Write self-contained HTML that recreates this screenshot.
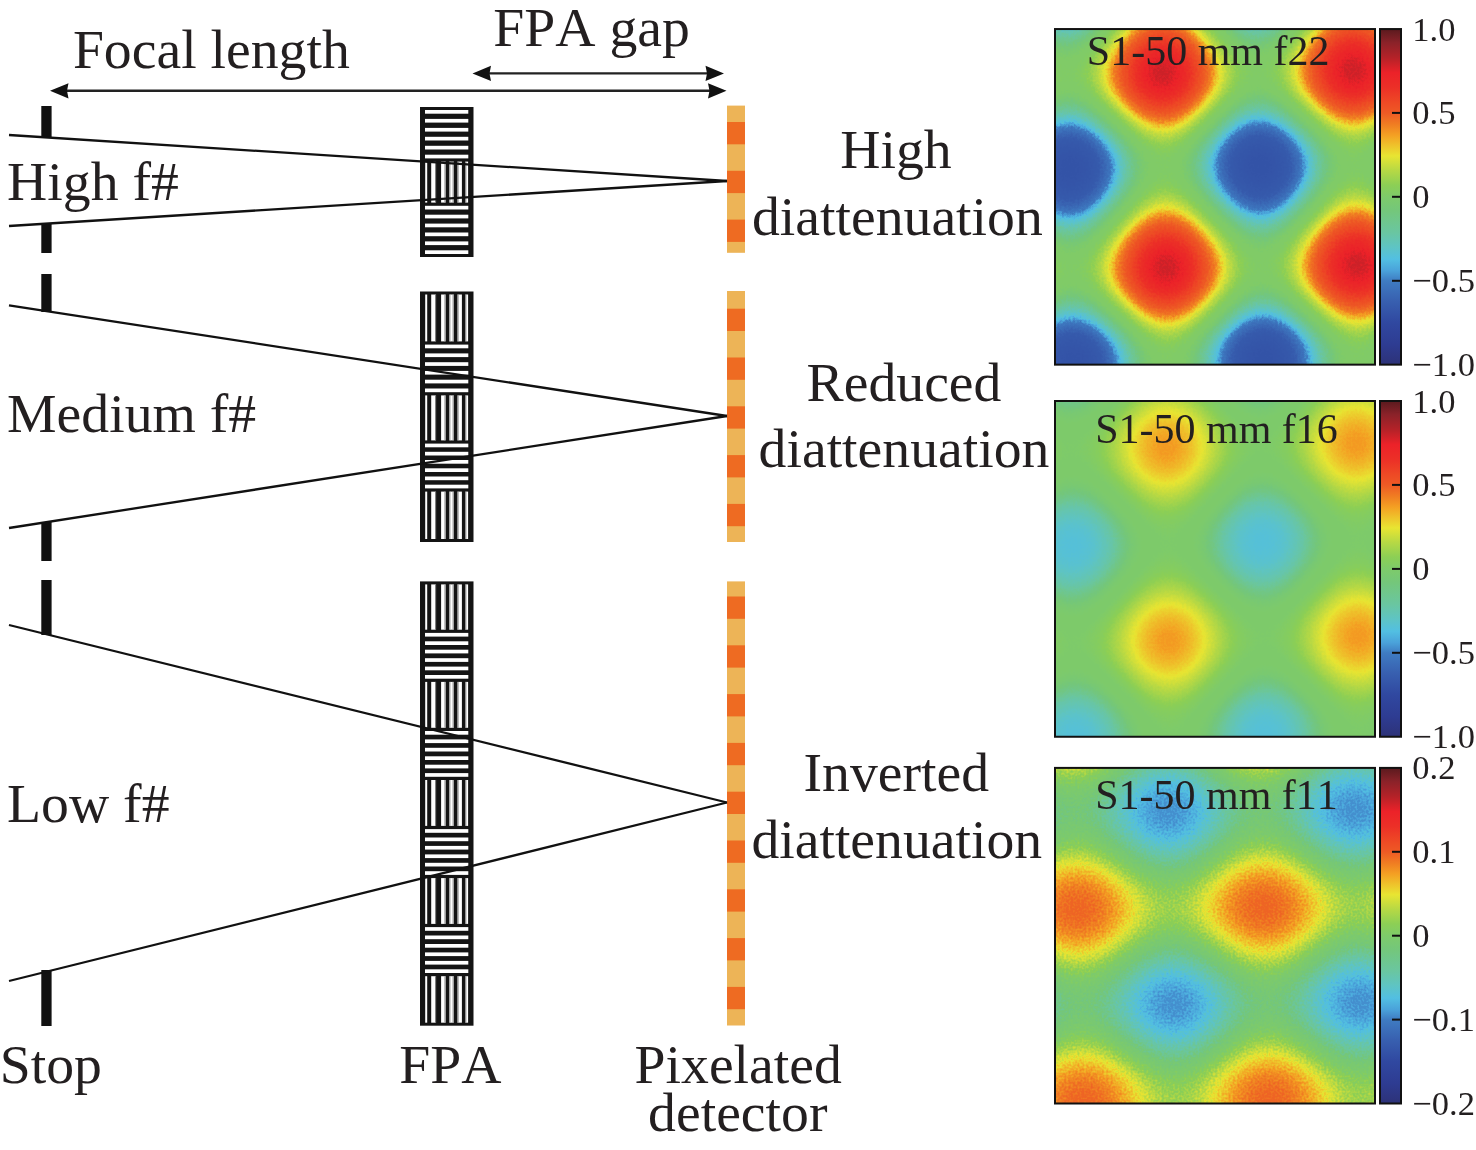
<!DOCTYPE html>
<html><head><meta charset="utf-8"><title>FPA diattenuation</title>
<style>
html,body{margin:0;padding:0;background:#fff;}
svg{display:block;}
text{font-family:"Liberation Serif", "Times New Roman", serif;fill:#231f20;font-kerning:none;}
</style></head><body>
<svg width="1476" height="1150" viewBox="0 0 1476 1150">
<defs><linearGradient id="gx0" gradientUnits="userSpaceOnUse" x1="1162.5" y1="73.5" x2="1353.424" y2="69.682" spreadMethod="repeat"><stop offset="0.0000" stop-color="rgb(255,255,255)"/><stop offset="0.0312" stop-color="rgb(253,253,253)"/><stop offset="0.0625" stop-color="rgb(245,245,245)"/><stop offset="0.0938" stop-color="rgb(234,234,234)"/><stop offset="0.1250" stop-color="rgb(218,218,218)"/><stop offset="0.1562" stop-color="rgb(198,198,198)"/><stop offset="0.1875" stop-color="rgb(176,176,176)"/><stop offset="0.2188" stop-color="rgb(152,152,152)"/><stop offset="0.2500" stop-color="rgb(128,128,128)"/><stop offset="0.2812" stop-color="rgb(103,103,103)"/><stop offset="0.3125" stop-color="rgb(79,79,79)"/><stop offset="0.3438" stop-color="rgb(57,57,57)"/><stop offset="0.3750" stop-color="rgb(37,37,37)"/><stop offset="0.4062" stop-color="rgb(21,21,21)"/><stop offset="0.4375" stop-color="rgb(10,10,10)"/><stop offset="0.4688" stop-color="rgb(2,2,2)"/><stop offset="0.5000" stop-color="rgb(0,0,0)"/><stop offset="0.5312" stop-color="rgb(2,2,2)"/><stop offset="0.5625" stop-color="rgb(10,10,10)"/><stop offset="0.5938" stop-color="rgb(21,21,21)"/><stop offset="0.6250" stop-color="rgb(37,37,37)"/><stop offset="0.6562" stop-color="rgb(57,57,57)"/><stop offset="0.6875" stop-color="rgb(79,79,79)"/><stop offset="0.7188" stop-color="rgb(103,103,103)"/><stop offset="0.7500" stop-color="rgb(127,127,127)"/><stop offset="0.7812" stop-color="rgb(152,152,152)"/><stop offset="0.8125" stop-color="rgb(176,176,176)"/><stop offset="0.8438" stop-color="rgb(198,198,198)"/><stop offset="0.8750" stop-color="rgb(218,218,218)"/><stop offset="0.9062" stop-color="rgb(234,234,234)"/><stop offset="0.9375" stop-color="rgb(245,245,245)"/><stop offset="0.9688" stop-color="rgb(253,253,253)"/><stop offset="1.0000" stop-color="rgb(255,255,255)"/></linearGradient><linearGradient id="gy0" gradientUnits="userSpaceOnUse" x1="1162.5" y1="73.5" x2="1165.229" y2="268.462" spreadMethod="repeat"><stop offset="0.0000" stop-color="rgb(255,255,255)"/><stop offset="0.0312" stop-color="rgb(252,252,252)"/><stop offset="0.0625" stop-color="rgb(244,244,244)"/><stop offset="0.0938" stop-color="rgb(232,232,232)"/><stop offset="0.1250" stop-color="rgb(214,214,214)"/><stop offset="0.1562" stop-color="rgb(193,193,193)"/><stop offset="0.1875" stop-color="rgb(170,170,170)"/><stop offset="0.2188" stop-color="rgb(144,144,144)"/><stop offset="0.2500" stop-color="rgb(118,118,118)"/><stop offset="0.2812" stop-color="rgb(93,93,93)"/><stop offset="0.3125" stop-color="rgb(68,68,68)"/><stop offset="0.3438" stop-color="rgb(46,46,46)"/><stop offset="0.3750" stop-color="rgb(28,28,28)"/><stop offset="0.4062" stop-color="rgb(14,14,14)"/><stop offset="0.4375" stop-color="rgb(4,4,4)"/><stop offset="0.4688" stop-color="rgb(0,0,0)"/><stop offset="0.5000" stop-color="rgb(1,1,1)"/><stop offset="0.5312" stop-color="rgb(6,6,6)"/><stop offset="0.5625" stop-color="rgb(16,16,16)"/><stop offset="0.5938" stop-color="rgb(30,30,30)"/><stop offset="0.6250" stop-color="rgb(47,47,47)"/><stop offset="0.6562" stop-color="rgb(67,67,67)"/><stop offset="0.6875" stop-color="rgb(89,89,89)"/><stop offset="0.7188" stop-color="rgb(112,112,112)"/><stop offset="0.7500" stop-color="rgb(136,136,136)"/><stop offset="0.7812" stop-color="rgb(160,160,160)"/><stop offset="0.8125" stop-color="rgb(182,182,182)"/><stop offset="0.8438" stop-color="rgb(203,203,203)"/><stop offset="0.8750" stop-color="rgb(221,221,221)"/><stop offset="0.9062" stop-color="rgb(235,235,235)"/><stop offset="0.9375" stop-color="rgb(246,246,246)"/><stop offset="0.9688" stop-color="rgb(253,253,253)"/><stop offset="1.0000" stop-color="rgb(255,255,255)"/></linearGradient><filter id="cm0" filterUnits="userSpaceOnUse" x="1055" y="29.05" width="320" height="335.59999999999997" color-interpolation-filters="sRGB"><feTurbulence type="fractalNoise" baseFrequency="0.45" numOctaves="1" seed="3" result="tn"/><feColorMatrix in="tn" type="matrix" values="1 0 0 0 0  1 0 0 0 0  1 0 0 0 0  0 0 0 0 1" result="nz"/><feComposite in="SourceGraphic" in2="nz" operator="arithmetic" k1="0" k2="1" k3="0.06" k4="-0.03" result="sn"/><feComponentTransfer in="sn"><feFuncR type="table" tableValues="0.203 0.203 0.204 0.205 0.205 0.206 0.207 0.207 0.208 0.209 0.209 0.210 0.211 0.211 0.212 0.214 0.217 0.220 0.222 0.225 0.227 0.230 0.233 0.235 0.238 0.240 0.245 0.257 0.273 0.288 0.301 0.312 0.325 0.336 0.345 0.354 0.363 0.371 0.378 0.386 0.393 0.400 0.408 0.416 0.420 0.424 0.429 0.433 0.438 0.442 0.446 0.451 0.455 0.462 0.468 0.473 0.479 0.484 0.489 0.494 0.502 0.502 0.502 0.502 0.502 0.508 0.513 0.519 0.524 0.532 0.540 0.549 0.569 0.590 0.610 0.631 0.652 0.672 0.693 0.716 0.744 0.773 0.802 0.832 0.861 0.890 0.912 0.917 0.926 0.934 0.941 0.948 0.955 0.953 0.948 0.942 0.940 0.939 0.938 0.937 0.936 0.935 0.934 0.933 0.933 0.933 0.933 0.933 0.933 0.932 0.932 0.931 0.930 0.929 0.928 0.927 0.926 0.925 0.925 0.925 0.925 0.925 0.925 0.925 0.925 0.895 0.864 0.834 0.803"/><feFuncG type="table" tableValues="0.326 0.328 0.330 0.332 0.334 0.336 0.338 0.340 0.342 0.344 0.346 0.348 0.350 0.352 0.354 0.360 0.368 0.377 0.387 0.397 0.408 0.418 0.428 0.439 0.449 0.460 0.479 0.521 0.575 0.629 0.673 0.716 0.751 0.755 0.759 0.763 0.766 0.769 0.770 0.771 0.773 0.774 0.775 0.776 0.777 0.777 0.778 0.778 0.779 0.779 0.780 0.780 0.781 0.783 0.786 0.788 0.790 0.792 0.794 0.796 0.798 0.798 0.798 0.798 0.798 0.800 0.802 0.803 0.805 0.807 0.809 0.812 0.816 0.821 0.826 0.830 0.835 0.840 0.844 0.850 0.857 0.864 0.871 0.878 0.886 0.893 0.889 0.859 0.815 0.771 0.726 0.681 0.636 0.592 0.548 0.504 0.478 0.458 0.438 0.417 0.397 0.377 0.356 0.344 0.333 0.323 0.312 0.302 0.291 0.279 0.267 0.255 0.243 0.231 0.219 0.207 0.195 0.185 0.179 0.171 0.164 0.156 0.149 0.141 0.133 0.133 0.133 0.133 0.133"/><feFuncB type="table" tableValues="0.656 0.658 0.659 0.660 0.662 0.663 0.664 0.666 0.667 0.669 0.670 0.671 0.673 0.674 0.675 0.679 0.685 0.690 0.697 0.704 0.710 0.717 0.723 0.730 0.737 0.744 0.756 0.783 0.817 0.851 0.865 0.877 0.877 0.850 0.828 0.805 0.783 0.761 0.739 0.718 0.696 0.673 0.650 0.628 0.611 0.594 0.578 0.561 0.544 0.528 0.511 0.494 0.478 0.466 0.457 0.449 0.440 0.432 0.424 0.415 0.404 0.404 0.404 0.404 0.404 0.396 0.387 0.379 0.370 0.359 0.346 0.334 0.326 0.318 0.310 0.302 0.294 0.286 0.278 0.269 0.258 0.247 0.236 0.225 0.214 0.204 0.194 0.189 0.180 0.171 0.161 0.150 0.139 0.136 0.135 0.134 0.135 0.136 0.138 0.140 0.141 0.143 0.145 0.145 0.145 0.145 0.145 0.145 0.145 0.146 0.147 0.148 0.149 0.150 0.151 0.152 0.152 0.153 0.154 0.155 0.156 0.158 0.159 0.160 0.161 0.160 0.160 0.159 0.159"/><feFuncA type="identity"/></feComponentTransfer></filter><linearGradient id="gx1" gradientUnits="userSpaceOnUse" x1="1166.5" y1="447.5" x2="1356.473" y2="445.220" spreadMethod="repeat"><stop offset="0.0000" stop-color="rgb(255,255,255)"/><stop offset="0.0312" stop-color="rgb(253,253,253)"/><stop offset="0.0625" stop-color="rgb(245,245,245)"/><stop offset="0.0938" stop-color="rgb(234,234,234)"/><stop offset="0.1250" stop-color="rgb(218,218,218)"/><stop offset="0.1562" stop-color="rgb(198,198,198)"/><stop offset="0.1875" stop-color="rgb(176,176,176)"/><stop offset="0.2188" stop-color="rgb(152,152,152)"/><stop offset="0.2500" stop-color="rgb(128,128,128)"/><stop offset="0.2812" stop-color="rgb(103,103,103)"/><stop offset="0.3125" stop-color="rgb(79,79,79)"/><stop offset="0.3438" stop-color="rgb(57,57,57)"/><stop offset="0.3750" stop-color="rgb(37,37,37)"/><stop offset="0.4062" stop-color="rgb(21,21,21)"/><stop offset="0.4375" stop-color="rgb(10,10,10)"/><stop offset="0.4688" stop-color="rgb(2,2,2)"/><stop offset="0.5000" stop-color="rgb(0,0,0)"/><stop offset="0.5312" stop-color="rgb(2,2,2)"/><stop offset="0.5625" stop-color="rgb(10,10,10)"/><stop offset="0.5938" stop-color="rgb(21,21,21)"/><stop offset="0.6250" stop-color="rgb(37,37,37)"/><stop offset="0.6562" stop-color="rgb(57,57,57)"/><stop offset="0.6875" stop-color="rgb(79,79,79)"/><stop offset="0.7188" stop-color="rgb(103,103,103)"/><stop offset="0.7500" stop-color="rgb(127,127,127)"/><stop offset="0.7812" stop-color="rgb(152,152,152)"/><stop offset="0.8125" stop-color="rgb(176,176,176)"/><stop offset="0.8438" stop-color="rgb(198,198,198)"/><stop offset="0.8750" stop-color="rgb(218,218,218)"/><stop offset="0.9062" stop-color="rgb(234,234,234)"/><stop offset="0.9375" stop-color="rgb(245,245,245)"/><stop offset="0.9688" stop-color="rgb(253,253,253)"/><stop offset="1.0000" stop-color="rgb(255,255,255)"/></linearGradient><linearGradient id="gy1" gradientUnits="userSpaceOnUse" x1="1166.5" y1="447.5" x2="1170.744" y2="640.407" spreadMethod="repeat"><stop offset="0.0000" stop-color="rgb(255,255,255)"/><stop offset="0.0312" stop-color="rgb(253,253,253)"/><stop offset="0.0625" stop-color="rgb(245,245,245)"/><stop offset="0.0938" stop-color="rgb(234,234,234)"/><stop offset="0.1250" stop-color="rgb(218,218,218)"/><stop offset="0.1562" stop-color="rgb(198,198,198)"/><stop offset="0.1875" stop-color="rgb(176,176,176)"/><stop offset="0.2188" stop-color="rgb(152,152,152)"/><stop offset="0.2500" stop-color="rgb(128,128,128)"/><stop offset="0.2812" stop-color="rgb(103,103,103)"/><stop offset="0.3125" stop-color="rgb(79,79,79)"/><stop offset="0.3438" stop-color="rgb(57,57,57)"/><stop offset="0.3750" stop-color="rgb(37,37,37)"/><stop offset="0.4062" stop-color="rgb(21,21,21)"/><stop offset="0.4375" stop-color="rgb(10,10,10)"/><stop offset="0.4688" stop-color="rgb(2,2,2)"/><stop offset="0.5000" stop-color="rgb(0,0,0)"/><stop offset="0.5312" stop-color="rgb(2,2,2)"/><stop offset="0.5625" stop-color="rgb(10,10,10)"/><stop offset="0.5938" stop-color="rgb(21,21,21)"/><stop offset="0.6250" stop-color="rgb(37,37,37)"/><stop offset="0.6562" stop-color="rgb(57,57,57)"/><stop offset="0.6875" stop-color="rgb(79,79,79)"/><stop offset="0.7188" stop-color="rgb(103,103,103)"/><stop offset="0.7500" stop-color="rgb(127,127,127)"/><stop offset="0.7812" stop-color="rgb(152,152,152)"/><stop offset="0.8125" stop-color="rgb(176,176,176)"/><stop offset="0.8438" stop-color="rgb(198,198,198)"/><stop offset="0.8750" stop-color="rgb(218,218,218)"/><stop offset="0.9062" stop-color="rgb(234,234,234)"/><stop offset="0.9375" stop-color="rgb(245,245,245)"/><stop offset="0.9688" stop-color="rgb(253,253,253)"/><stop offset="1.0000" stop-color="rgb(255,255,255)"/></linearGradient><filter id="cm1" filterUnits="userSpaceOnUse" x="1055" y="401" width="320" height="335.75" color-interpolation-filters="sRGB"><feTurbulence type="fractalNoise" baseFrequency="0.45" numOctaves="1" seed="10" result="tn"/><feColorMatrix in="tn" type="matrix" values="1 0 0 0 0  1 0 0 0 0  1 0 0 0 0  0 0 0 0 1" result="nz"/><feComposite in="SourceGraphic" in2="nz" operator="arithmetic" k1="0" k2="1" k3="0.05" k4="-0.025" result="sn"/><feComponentTransfer in="sn"><feFuncR type="table" tableValues="0.336 0.338 0.341 0.343 0.346 0.348 0.351 0.353 0.356 0.360 0.364 0.367 0.371 0.374 0.377 0.380 0.383 0.386 0.389 0.392 0.396 0.399 0.402 0.405 0.408 0.411 0.416 0.420 0.423 0.426 0.429 0.432 0.436 0.439 0.442 0.445 0.447 0.450 0.452 0.454 0.458 0.462 0.466 0.470 0.474 0.476 0.478 0.480 0.482 0.484 0.486 0.488 0.490 0.491 0.493 0.494 0.494 0.494 0.494 0.494 0.494 0.494 0.494 0.494 0.494 0.497 0.500 0.503 0.506 0.509 0.512 0.515 0.517 0.520 0.523 0.527 0.531 0.536 0.540 0.545 0.550 0.561 0.572 0.583 0.594 0.605 0.616 0.627 0.638 0.650 0.662 0.674 0.685 0.697 0.709 0.721 0.735 0.748 0.762 0.776 0.790 0.804 0.817 0.831 0.846 0.861 0.876 0.891 0.905 0.912 0.915 0.917 0.920 0.923 0.926 0.928 0.931 0.934 0.936 0.938 0.941 0.943 0.945 0.947 0.950 0.953 0.956 0.956 0.954"/><feFuncG type="table" tableValues="0.755 0.756 0.757 0.758 0.759 0.760 0.761 0.762 0.763 0.765 0.767 0.768 0.769 0.769 0.770 0.771 0.771 0.772 0.772 0.773 0.773 0.774 0.774 0.775 0.775 0.776 0.777 0.777 0.777 0.778 0.778 0.778 0.778 0.779 0.779 0.779 0.780 0.780 0.780 0.780 0.782 0.783 0.785 0.786 0.788 0.789 0.790 0.790 0.791 0.792 0.793 0.793 0.794 0.795 0.796 0.796 0.796 0.796 0.796 0.796 0.796 0.796 0.796 0.796 0.796 0.797 0.798 0.799 0.799 0.800 0.801 0.802 0.803 0.804 0.804 0.805 0.807 0.808 0.809 0.811 0.812 0.814 0.817 0.819 0.822 0.825 0.827 0.830 0.832 0.835 0.837 0.840 0.843 0.845 0.848 0.851 0.854 0.858 0.861 0.865 0.868 0.872 0.875 0.878 0.882 0.886 0.890 0.893 0.897 0.888 0.874 0.859 0.845 0.830 0.816 0.802 0.788 0.773 0.759 0.745 0.730 0.716 0.701 0.687 0.670 0.653 0.635 0.618 0.602"/><feFuncB type="table" tableValues="0.850 0.844 0.838 0.832 0.826 0.819 0.813 0.807 0.801 0.791 0.781 0.772 0.762 0.753 0.744 0.734 0.725 0.716 0.707 0.697 0.688 0.679 0.669 0.660 0.651 0.640 0.625 0.612 0.600 0.588 0.576 0.564 0.552 0.539 0.527 0.517 0.508 0.499 0.490 0.480 0.473 0.467 0.461 0.454 0.448 0.444 0.441 0.438 0.435 0.432 0.429 0.426 0.423 0.420 0.417 0.416 0.416 0.416 0.416 0.416 0.416 0.416 0.416 0.416 0.416 0.411 0.407 0.403 0.398 0.394 0.389 0.385 0.381 0.376 0.372 0.367 0.360 0.353 0.347 0.340 0.333 0.329 0.324 0.320 0.316 0.312 0.307 0.303 0.299 0.294 0.290 0.285 0.281 0.276 0.272 0.267 0.262 0.257 0.251 0.246 0.241 0.236 0.231 0.226 0.220 0.214 0.209 0.203 0.198 0.194 0.191 0.189 0.186 0.183 0.180 0.177 0.175 0.172 0.168 0.165 0.162 0.158 0.155 0.151 0.147 0.143 0.139 0.137 0.136"/><feFuncA type="identity"/></feComponentTransfer></filter><linearGradient id="gx2" gradientUnits="userSpaceOnUse" x1="1264" y1="907" x2="1450.809" y2="901.022" spreadMethod="repeat"><stop offset="0.0000" stop-color="rgb(255,255,255)"/><stop offset="0.0312" stop-color="rgb(253,253,253)"/><stop offset="0.0625" stop-color="rgb(245,245,245)"/><stop offset="0.0938" stop-color="rgb(234,234,234)"/><stop offset="0.1250" stop-color="rgb(218,218,218)"/><stop offset="0.1562" stop-color="rgb(198,198,198)"/><stop offset="0.1875" stop-color="rgb(176,176,176)"/><stop offset="0.2188" stop-color="rgb(152,152,152)"/><stop offset="0.2500" stop-color="rgb(128,128,128)"/><stop offset="0.2812" stop-color="rgb(103,103,103)"/><stop offset="0.3125" stop-color="rgb(79,79,79)"/><stop offset="0.3438" stop-color="rgb(57,57,57)"/><stop offset="0.3750" stop-color="rgb(37,37,37)"/><stop offset="0.4062" stop-color="rgb(21,21,21)"/><stop offset="0.4375" stop-color="rgb(10,10,10)"/><stop offset="0.4688" stop-color="rgb(2,2,2)"/><stop offset="0.5000" stop-color="rgb(0,0,0)"/><stop offset="0.5312" stop-color="rgb(2,2,2)"/><stop offset="0.5625" stop-color="rgb(10,10,10)"/><stop offset="0.5938" stop-color="rgb(21,21,21)"/><stop offset="0.6250" stop-color="rgb(37,37,37)"/><stop offset="0.6562" stop-color="rgb(57,57,57)"/><stop offset="0.6875" stop-color="rgb(79,79,79)"/><stop offset="0.7188" stop-color="rgb(103,103,103)"/><stop offset="0.7500" stop-color="rgb(127,127,127)"/><stop offset="0.7812" stop-color="rgb(152,152,152)"/><stop offset="0.8125" stop-color="rgb(176,176,176)"/><stop offset="0.8438" stop-color="rgb(198,198,198)"/><stop offset="0.8750" stop-color="rgb(218,218,218)"/><stop offset="0.9062" stop-color="rgb(234,234,234)"/><stop offset="0.9375" stop-color="rgb(245,245,245)"/><stop offset="0.9688" stop-color="rgb(253,253,253)"/><stop offset="1.0000" stop-color="rgb(255,255,255)"/></linearGradient><linearGradient id="gy2" gradientUnits="userSpaceOnUse" x1="1264" y1="907" x2="1265.930" y2="1099.981" spreadMethod="repeat"><stop offset="0.0000" stop-color="rgb(255,255,255)"/><stop offset="0.0312" stop-color="rgb(253,253,253)"/><stop offset="0.0625" stop-color="rgb(245,245,245)"/><stop offset="0.0938" stop-color="rgb(234,234,234)"/><stop offset="0.1250" stop-color="rgb(218,218,218)"/><stop offset="0.1562" stop-color="rgb(198,198,198)"/><stop offset="0.1875" stop-color="rgb(176,176,176)"/><stop offset="0.2188" stop-color="rgb(152,152,152)"/><stop offset="0.2500" stop-color="rgb(128,128,128)"/><stop offset="0.2812" stop-color="rgb(103,103,103)"/><stop offset="0.3125" stop-color="rgb(79,79,79)"/><stop offset="0.3438" stop-color="rgb(57,57,57)"/><stop offset="0.3750" stop-color="rgb(37,37,37)"/><stop offset="0.4062" stop-color="rgb(21,21,21)"/><stop offset="0.4375" stop-color="rgb(10,10,10)"/><stop offset="0.4688" stop-color="rgb(2,2,2)"/><stop offset="0.5000" stop-color="rgb(0,0,0)"/><stop offset="0.5312" stop-color="rgb(2,2,2)"/><stop offset="0.5625" stop-color="rgb(10,10,10)"/><stop offset="0.5938" stop-color="rgb(21,21,21)"/><stop offset="0.6250" stop-color="rgb(37,37,37)"/><stop offset="0.6562" stop-color="rgb(57,57,57)"/><stop offset="0.6875" stop-color="rgb(79,79,79)"/><stop offset="0.7188" stop-color="rgb(103,103,103)"/><stop offset="0.7500" stop-color="rgb(127,127,127)"/><stop offset="0.7812" stop-color="rgb(152,152,152)"/><stop offset="0.8125" stop-color="rgb(176,176,176)"/><stop offset="0.8438" stop-color="rgb(198,198,198)"/><stop offset="0.8750" stop-color="rgb(218,218,218)"/><stop offset="0.9062" stop-color="rgb(234,234,234)"/><stop offset="0.9375" stop-color="rgb(245,245,245)"/><stop offset="0.9688" stop-color="rgb(253,253,253)"/><stop offset="1.0000" stop-color="rgb(255,255,255)"/></linearGradient><filter id="cm2" filterUnits="userSpaceOnUse" x="1055" y="767.9" width="320" height="335.6" color-interpolation-filters="sRGB"><feTurbulence type="fractalNoise" baseFrequency="0.45" numOctaves="1" seed="17" result="tn"/><feColorMatrix in="tn" type="matrix" values="1 0 0 0 0  1 0 0 0 0  1 0 0 0 0  0 0 0 0 1" result="nz"/><feComposite in="SourceGraphic" in2="nz" operator="arithmetic" k1="0" k2="1" k3="0.2" k4="-0.1" result="sn"/><feComponentTransfer in="sn"><feFuncR type="table" tableValues="0.269 0.274 0.279 0.284 0.289 0.293 0.296 0.300 0.303 0.306 0.310 0.313 0.316 0.320 0.323 0.328 0.333 0.338 0.343 0.348 0.352 0.357 0.362 0.367 0.371 0.375 0.379 0.383 0.387 0.390 0.394 0.398 0.402 0.406 0.410 0.414 0.417 0.419 0.422 0.425 0.428 0.431 0.434 0.437 0.440 0.443 0.446 0.449 0.452 0.454 0.459 0.464 0.467 0.469 0.471 0.473 0.476 0.478 0.480 0.483 0.485 0.487 0.490 0.492 0.494 0.500 0.506 0.513 0.519 0.525 0.531 0.537 0.543 0.550 0.565 0.580 0.595 0.610 0.628 0.646 0.663 0.681 0.699 0.717 0.737 0.756 0.774 0.792 0.810 0.828 0.847 0.865 0.883 0.901 0.912 0.915 0.918 0.922 0.925 0.928 0.932 0.934 0.937 0.940 0.942 0.945 0.948 0.950 0.953 0.955 0.956 0.954 0.952 0.950 0.948 0.947 0.946 0.944 0.943 0.941 0.941 0.940 0.939 0.939 0.938 0.937 0.937 0.936 0.936"/><feFuncG type="table" tableValues="0.561 0.579 0.597 0.614 0.632 0.645 0.657 0.669 0.681 0.694 0.706 0.718 0.730 0.742 0.750 0.752 0.754 0.756 0.758 0.760 0.762 0.764 0.766 0.768 0.769 0.770 0.770 0.771 0.772 0.772 0.773 0.774 0.774 0.775 0.775 0.776 0.777 0.777 0.777 0.777 0.778 0.778 0.778 0.779 0.779 0.779 0.779 0.780 0.780 0.780 0.782 0.784 0.785 0.786 0.787 0.788 0.789 0.790 0.791 0.791 0.792 0.793 0.794 0.795 0.796 0.798 0.800 0.801 0.803 0.805 0.807 0.808 0.810 0.812 0.815 0.819 0.822 0.826 0.830 0.834 0.838 0.842 0.846 0.850 0.855 0.860 0.864 0.869 0.873 0.878 0.882 0.887 0.891 0.896 0.889 0.871 0.854 0.836 0.819 0.802 0.786 0.769 0.753 0.736 0.720 0.703 0.686 0.670 0.653 0.637 0.620 0.604 0.588 0.572 0.556 0.544 0.532 0.520 0.508 0.496 0.484 0.473 0.461 0.450 0.439 0.427 0.416 0.405 0.393"/><feFuncB type="table" tableValues="0.808 0.819 0.830 0.842 0.853 0.858 0.861 0.864 0.868 0.871 0.874 0.878 0.881 0.884 0.882 0.870 0.857 0.845 0.833 0.821 0.809 0.797 0.785 0.773 0.761 0.749 0.738 0.726 0.715 0.703 0.691 0.680 0.668 0.657 0.645 0.633 0.623 0.614 0.603 0.592 0.581 0.570 0.558 0.547 0.536 0.525 0.514 0.503 0.491 0.480 0.472 0.464 0.460 0.456 0.452 0.449 0.445 0.441 0.438 0.434 0.430 0.427 0.423 0.419 0.416 0.406 0.397 0.388 0.379 0.370 0.361 0.351 0.342 0.333 0.327 0.322 0.316 0.310 0.303 0.296 0.289 0.282 0.275 0.269 0.261 0.254 0.247 0.240 0.233 0.227 0.220 0.213 0.206 0.199 0.194 0.191 0.187 0.184 0.181 0.178 0.174 0.171 0.167 0.163 0.159 0.155 0.151 0.147 0.143 0.139 0.137 0.137 0.136 0.136 0.135 0.135 0.134 0.134 0.134 0.133 0.134 0.135 0.136 0.137 0.138 0.139 0.140 0.141 0.142"/><feFuncA type="identity"/></feComponentTransfer></filter><linearGradient id="cb" x1="0" y1="0" x2="0" y2="1"><stop offset="0.000" stop-color="#5A1A1E"/><stop offset="0.040" stop-color="#8A2229"/><stop offset="0.085" stop-color="#B42228"/><stop offset="0.130" stop-color="#EC2229"/><stop offset="0.175" stop-color="#EC3027"/><stop offset="0.220" stop-color="#EE4A25"/><stop offset="0.250" stop-color="#EE5A25"/><stop offset="0.285" stop-color="#F07E22"/><stop offset="0.316" stop-color="#F4A023"/><stop offset="0.350" stop-color="#EEC62C"/><stop offset="0.378" stop-color="#E8E532"/><stop offset="0.420" stop-color="#B8D944"/><stop offset="0.465" stop-color="#8CCF55"/><stop offset="0.500" stop-color="#7ECB6A"/><stop offset="0.540" stop-color="#74C77A"/><stop offset="0.605" stop-color="#6AC6A0"/><stop offset="0.650" stop-color="#5EC4C4"/><stop offset="0.686" stop-color="#52BFE2"/><stop offset="0.720" stop-color="#4AA2DA"/><stop offset="0.750" stop-color="#3F7CC2"/><stop offset="0.810" stop-color="#3860B0"/><stop offset="0.875" stop-color="#3048A0"/><stop offset="0.940" stop-color="#2E3C92"/><stop offset="1.000" stop-color="#2D3278"/></linearGradient></defs>
<g filter="url(#cm0)"><rect x="1055" y="29.05" width="320" height="335.59999999999997" fill="url(#gx0)"/><rect x="1055" y="29.05" width="320" height="335.59999999999997" fill="url(#gy0)" opacity="0.5"/></g>
<rect x="1055" y="29.05" width="320" height="335.59999999999997" fill="none" stroke="#111" stroke-width="2"/>
<text x="1086.8" y="65.1" font-size="42">S1-50 mm f22</text>
<rect x="1380" y="29.05" width="21" height="335.59999999999997" fill="url(#cb)" stroke="#111" stroke-width="2"/>
<text x="1412.3" y="40.5" font-size="34.5">1.0</text>
<line x1="1392" y1="112.9" x2="1401" y2="112.9" stroke="#111" stroke-width="2"/>
<text x="1412.3" y="124.4" font-size="34.5">0.5</text>
<line x1="1392" y1="196.8" x2="1401" y2="196.8" stroke="#111" stroke-width="2"/>
<text x="1412.3" y="208.3" font-size="34.5">0</text>
<line x1="1392" y1="280.8" x2="1401" y2="280.8" stroke="#111" stroke-width="2"/>
<text x="1412.3" y="292.2" font-size="34.5">−0.5</text>
<text x="1412.3" y="376.1" font-size="34.5">−1.0</text>
<g filter="url(#cm1)"><rect x="1055" y="401" width="320" height="335.75" fill="url(#gx1)"/><rect x="1055" y="401" width="320" height="335.75" fill="url(#gy1)" opacity="0.5"/></g>
<rect x="1055" y="401" width="320" height="335.75" fill="none" stroke="#111" stroke-width="2"/>
<text x="1095.2" y="442.5" font-size="42">S1-50 mm f16</text>
<rect x="1380" y="401" width="21" height="335.75" fill="url(#cb)" stroke="#111" stroke-width="2"/>
<text x="1412.3" y="412.5" font-size="34.5">1.0</text>
<line x1="1392" y1="484.9" x2="1401" y2="484.9" stroke="#111" stroke-width="2"/>
<text x="1412.3" y="496.4" font-size="34.5">0.5</text>
<line x1="1392" y1="568.9" x2="1401" y2="568.9" stroke="#111" stroke-width="2"/>
<text x="1412.3" y="580.4" font-size="34.5">0</text>
<line x1="1392" y1="652.8" x2="1401" y2="652.8" stroke="#111" stroke-width="2"/>
<text x="1412.3" y="664.3" font-size="34.5">−0.5</text>
<text x="1412.3" y="748.2" font-size="34.5">−1.0</text>
<g filter="url(#cm2)"><rect x="1055" y="767.9" width="320" height="335.6" fill="url(#gx2)"/><rect x="1055" y="767.9" width="320" height="335.6" fill="url(#gy2)" opacity="0.6"/></g>
<rect x="1055" y="767.9" width="320" height="335.6" fill="none" stroke="#111" stroke-width="2"/>
<text x="1095.2" y="808.5" font-size="42">S1-50 mm f11</text>
<rect x="1380" y="767.9" width="21" height="335.6" fill="url(#cb)" stroke="#111" stroke-width="2"/>
<text x="1412.3" y="779.4" font-size="34.5">0.2</text>
<line x1="1392" y1="851.8" x2="1401" y2="851.8" stroke="#111" stroke-width="2"/>
<text x="1412.3" y="863.3" font-size="34.5">0.1</text>
<line x1="1392" y1="935.7" x2="1401" y2="935.7" stroke="#111" stroke-width="2"/>
<text x="1412.3" y="947.2" font-size="34.5">0</text>
<line x1="1392" y1="1019.6" x2="1401" y2="1019.6" stroke="#111" stroke-width="2"/>
<text x="1412.3" y="1031.1" font-size="34.5">−0.1</text>
<text x="1412.3" y="1115.0" font-size="34.5">−0.2</text>
<rect x="41.3" y="106" width="10.3" height="31" fill="#111"/>
<rect x="41.3" y="224" width="10.3" height="29" fill="#111"/>
<rect x="41.3" y="274" width="10.3" height="38" fill="#111"/>
<rect x="41.3" y="522" width="10.3" height="39" fill="#111"/>
<rect x="41.3" y="580" width="10.3" height="55" fill="#111"/>
<rect x="41.3" y="970" width="10.3" height="56" fill="#111"/>
<rect x="727" y="105.6" width="18" height="147.20000000000002" fill="#EDB457"/>
<rect x="727" y="122.0" width="18" height="22.3" fill="#EE6B22"/>
<rect x="727" y="170.8" width="18" height="22.3" fill="#EE6B22"/>
<rect x="727" y="219.6" width="18" height="22.3" fill="#EE6B22"/>
<rect x="727" y="291" width="18" height="251" fill="#EDB457"/>
<rect x="727" y="308.7" width="18" height="22.3" fill="#EE6B22"/>
<rect x="727" y="357.5" width="18" height="22.3" fill="#EE6B22"/>
<rect x="727" y="406.3" width="18" height="22.3" fill="#EE6B22"/>
<rect x="727" y="455.1" width="18" height="22.3" fill="#EE6B22"/>
<rect x="727" y="503.9" width="18" height="22.3" fill="#EE6B22"/>
<rect x="727" y="581.4" width="18" height="444.1" fill="#EDB457"/>
<rect x="727" y="596.5" width="18" height="22.3" fill="#EE6B22"/>
<rect x="727" y="645.3" width="18" height="22.3" fill="#EE6B22"/>
<rect x="727" y="694.1" width="18" height="22.3" fill="#EE6B22"/>
<rect x="727" y="742.9" width="18" height="22.3" fill="#EE6B22"/>
<rect x="727" y="791.7" width="18" height="22.3" fill="#EE6B22"/>
<rect x="727" y="840.5" width="18" height="22.3" fill="#EE6B22"/>
<rect x="727" y="889.3" width="18" height="22.3" fill="#EE6B22"/>
<rect x="727" y="938.1" width="18" height="22.3" fill="#EE6B22"/>
<rect x="727" y="986.9" width="18" height="22.3" fill="#EE6B22"/>
<rect x="420" y="107" width="53.5" height="150.0" fill="#141414"/>
<rect x="425" y="110.0" width="43.3" height="3.7" fill="#fff"/>
<rect x="425" y="118.9" width="43.3" height="3.7" fill="#fff"/>
<rect x="425" y="127.9" width="43.3" height="3.7" fill="#fff"/>
<rect x="425" y="136.8" width="43.3" height="3.7" fill="#fff"/>
<rect x="425" y="145.8" width="43.3" height="3.7" fill="#fff"/>
<rect x="425" y="154.7" width="43.3" height="3.7" fill="#fff"/>
<rect x="425.2" y="161.6" width="2.0" height="41.0" fill="#fff"/>
<rect x="431.2" y="161.6" width="4.7" height="41.0" fill="#fff"/>
<rect x="441.1" y="161.6" width="4.5" height="41.0" fill="#fff"/>
<rect x="449.4" y="161.6" width="4.4" height="41.0" fill="#fff"/>
<rect x="457.4" y="161.6" width="4.5" height="41.0" fill="#fff"/>
<rect x="465.3" y="161.6" width="2.8" height="41.0" fill="#fff"/>
<rect x="435.2" y="161.6" width="1.0" height="41.0" fill="#666"/>
<rect x="444.4" y="161.6" width="1.0" height="41.0" fill="#999"/>
<rect x="449.6" y="161.6" width="0.9" height="41.0" fill="#aaa"/>
<rect x="452.6" y="161.6" width="1.0" height="41.0" fill="#888"/>
<rect x="457.5" y="161.6" width="1.0" height="41.0" fill="#777"/>
<rect x="465.4" y="161.6" width="0.9" height="41.0" fill="#777"/>
<rect x="425" y="205.8" width="43.3" height="3.7" fill="#fff"/>
<rect x="425" y="214.7" width="43.3" height="3.7" fill="#fff"/>
<rect x="425" y="223.6" width="43.3" height="3.7" fill="#fff"/>
<rect x="425" y="232.5" width="43.3" height="3.7" fill="#fff"/>
<rect x="425" y="241.4" width="43.3" height="3.7" fill="#fff"/>
<rect x="425" y="250.3" width="43.3" height="3.7" fill="#fff"/>
<rect x="420" y="291.5" width="53.5" height="250.5" fill="#141414"/>
<rect x="425.2" y="294.5" width="2.0" height="46.9" fill="#fff"/>
<rect x="431.2" y="294.5" width="4.7" height="46.9" fill="#fff"/>
<rect x="441.1" y="294.5" width="4.5" height="46.9" fill="#fff"/>
<rect x="449.4" y="294.5" width="4.4" height="46.9" fill="#fff"/>
<rect x="457.4" y="294.5" width="4.5" height="46.9" fill="#fff"/>
<rect x="465.3" y="294.5" width="2.8" height="46.9" fill="#fff"/>
<rect x="435.2" y="294.5" width="1.0" height="46.9" fill="#666"/>
<rect x="444.4" y="294.5" width="1.0" height="46.9" fill="#999"/>
<rect x="449.6" y="294.5" width="0.9" height="46.9" fill="#aaa"/>
<rect x="452.6" y="294.5" width="1.0" height="46.9" fill="#888"/>
<rect x="457.5" y="294.5" width="1.0" height="46.9" fill="#777"/>
<rect x="465.4" y="294.5" width="0.9" height="46.9" fill="#777"/>
<rect x="425" y="344.6" width="43.3" height="3.7" fill="#fff"/>
<rect x="425" y="353.4" width="43.3" height="3.7" fill="#fff"/>
<rect x="425" y="362.2" width="43.3" height="3.7" fill="#fff"/>
<rect x="425" y="370.9" width="43.3" height="3.7" fill="#fff"/>
<rect x="425" y="379.7" width="43.3" height="3.7" fill="#fff"/>
<rect x="425" y="388.5" width="43.3" height="3.7" fill="#fff"/>
<rect x="425.2" y="395.4" width="2.0" height="45.0" fill="#fff"/>
<rect x="431.2" y="395.4" width="4.7" height="45.0" fill="#fff"/>
<rect x="441.1" y="395.4" width="4.5" height="45.0" fill="#fff"/>
<rect x="449.4" y="395.4" width="4.4" height="45.0" fill="#fff"/>
<rect x="457.4" y="395.4" width="4.5" height="45.0" fill="#fff"/>
<rect x="465.3" y="395.4" width="2.8" height="45.0" fill="#fff"/>
<rect x="435.2" y="395.4" width="1.0" height="45.0" fill="#666"/>
<rect x="444.4" y="395.4" width="1.0" height="45.0" fill="#999"/>
<rect x="449.6" y="395.4" width="0.9" height="45.0" fill="#aaa"/>
<rect x="452.6" y="395.4" width="1.0" height="45.0" fill="#888"/>
<rect x="457.5" y="395.4" width="1.0" height="45.0" fill="#777"/>
<rect x="465.4" y="395.4" width="0.9" height="45.0" fill="#777"/>
<rect x="425" y="443.6" width="43.3" height="3.7" fill="#fff"/>
<rect x="425" y="451.8" width="43.3" height="3.7" fill="#fff"/>
<rect x="425" y="460.0" width="43.3" height="3.7" fill="#fff"/>
<rect x="425" y="468.3" width="43.3" height="3.7" fill="#fff"/>
<rect x="425" y="476.5" width="43.3" height="3.7" fill="#fff"/>
<rect x="425" y="484.7" width="43.3" height="3.7" fill="#fff"/>
<rect x="425.2" y="491.6" width="2.0" height="47.4" fill="#fff"/>
<rect x="431.2" y="491.6" width="4.7" height="47.4" fill="#fff"/>
<rect x="441.1" y="491.6" width="4.5" height="47.4" fill="#fff"/>
<rect x="449.4" y="491.6" width="4.4" height="47.4" fill="#fff"/>
<rect x="457.4" y="491.6" width="4.5" height="47.4" fill="#fff"/>
<rect x="465.3" y="491.6" width="2.8" height="47.4" fill="#fff"/>
<rect x="435.2" y="491.6" width="1.0" height="47.4" fill="#666"/>
<rect x="444.4" y="491.6" width="1.0" height="47.4" fill="#999"/>
<rect x="449.6" y="491.6" width="0.9" height="47.4" fill="#aaa"/>
<rect x="452.6" y="491.6" width="1.0" height="47.4" fill="#888"/>
<rect x="457.5" y="491.6" width="1.0" height="47.4" fill="#777"/>
<rect x="465.4" y="491.6" width="0.9" height="47.4" fill="#777"/>
<rect x="420" y="581.4" width="53.5" height="444.3" fill="#141414"/>
<rect x="425.2" y="584.4" width="2.0" height="45.3" fill="#fff"/>
<rect x="431.2" y="584.4" width="4.7" height="45.3" fill="#fff"/>
<rect x="441.1" y="584.4" width="4.5" height="45.3" fill="#fff"/>
<rect x="449.4" y="584.4" width="4.4" height="45.3" fill="#fff"/>
<rect x="457.4" y="584.4" width="4.5" height="45.3" fill="#fff"/>
<rect x="465.3" y="584.4" width="2.8" height="45.3" fill="#fff"/>
<rect x="435.2" y="584.4" width="1.0" height="45.3" fill="#666"/>
<rect x="444.4" y="584.4" width="1.0" height="45.3" fill="#999"/>
<rect x="449.6" y="584.4" width="0.9" height="45.3" fill="#aaa"/>
<rect x="452.6" y="584.4" width="1.0" height="45.3" fill="#888"/>
<rect x="457.5" y="584.4" width="1.0" height="45.3" fill="#777"/>
<rect x="465.4" y="584.4" width="0.9" height="45.3" fill="#777"/>
<rect x="425" y="632.9" width="43.3" height="3.7" fill="#fff"/>
<rect x="425" y="641.3" width="43.3" height="3.7" fill="#fff"/>
<rect x="425" y="649.7" width="43.3" height="3.7" fill="#fff"/>
<rect x="425" y="658.2" width="43.3" height="3.7" fill="#fff"/>
<rect x="425" y="666.6" width="43.3" height="3.7" fill="#fff"/>
<rect x="425" y="675.0" width="43.3" height="3.7" fill="#fff"/>
<rect x="425.2" y="681.9" width="2.0" height="45.9" fill="#fff"/>
<rect x="431.2" y="681.9" width="4.7" height="45.9" fill="#fff"/>
<rect x="441.1" y="681.9" width="4.5" height="45.9" fill="#fff"/>
<rect x="449.4" y="681.9" width="4.4" height="45.9" fill="#fff"/>
<rect x="457.4" y="681.9" width="4.5" height="45.9" fill="#fff"/>
<rect x="465.3" y="681.9" width="2.8" height="45.9" fill="#fff"/>
<rect x="435.2" y="681.9" width="1.0" height="45.9" fill="#666"/>
<rect x="444.4" y="681.9" width="1.0" height="45.9" fill="#999"/>
<rect x="449.6" y="681.9" width="0.9" height="45.9" fill="#aaa"/>
<rect x="452.6" y="681.9" width="1.0" height="45.9" fill="#888"/>
<rect x="457.5" y="681.9" width="1.0" height="45.9" fill="#777"/>
<rect x="465.4" y="681.9" width="0.9" height="45.9" fill="#777"/>
<rect x="425" y="731.0" width="43.3" height="3.7" fill="#fff"/>
<rect x="425" y="739.4" width="43.3" height="3.7" fill="#fff"/>
<rect x="425" y="747.8" width="43.3" height="3.7" fill="#fff"/>
<rect x="425" y="756.3" width="43.3" height="3.7" fill="#fff"/>
<rect x="425" y="764.7" width="43.3" height="3.7" fill="#fff"/>
<rect x="425" y="773.1" width="43.3" height="3.7" fill="#fff"/>
<rect x="425.2" y="780.0" width="2.0" height="45.9" fill="#fff"/>
<rect x="431.2" y="780.0" width="4.7" height="45.9" fill="#fff"/>
<rect x="441.1" y="780.0" width="4.5" height="45.9" fill="#fff"/>
<rect x="449.4" y="780.0" width="4.4" height="45.9" fill="#fff"/>
<rect x="457.4" y="780.0" width="4.5" height="45.9" fill="#fff"/>
<rect x="465.3" y="780.0" width="2.8" height="45.9" fill="#fff"/>
<rect x="435.2" y="780.0" width="1.0" height="45.9" fill="#666"/>
<rect x="444.4" y="780.0" width="1.0" height="45.9" fill="#999"/>
<rect x="449.6" y="780.0" width="0.9" height="45.9" fill="#aaa"/>
<rect x="452.6" y="780.0" width="1.0" height="45.9" fill="#888"/>
<rect x="457.5" y="780.0" width="1.0" height="45.9" fill="#777"/>
<rect x="465.4" y="780.0" width="0.9" height="45.9" fill="#777"/>
<rect x="425" y="829.1" width="43.3" height="3.7" fill="#fff"/>
<rect x="425" y="837.5" width="43.3" height="3.7" fill="#fff"/>
<rect x="425" y="845.9" width="43.3" height="3.7" fill="#fff"/>
<rect x="425" y="854.4" width="43.3" height="3.7" fill="#fff"/>
<rect x="425" y="862.8" width="43.3" height="3.7" fill="#fff"/>
<rect x="425" y="871.2" width="43.3" height="3.7" fill="#fff"/>
<rect x="425.2" y="878.1" width="2.0" height="45.8" fill="#fff"/>
<rect x="431.2" y="878.1" width="4.7" height="45.8" fill="#fff"/>
<rect x="441.1" y="878.1" width="4.5" height="45.8" fill="#fff"/>
<rect x="449.4" y="878.1" width="4.4" height="45.8" fill="#fff"/>
<rect x="457.4" y="878.1" width="4.5" height="45.8" fill="#fff"/>
<rect x="465.3" y="878.1" width="2.8" height="45.8" fill="#fff"/>
<rect x="435.2" y="878.1" width="1.0" height="45.8" fill="#666"/>
<rect x="444.4" y="878.1" width="1.0" height="45.8" fill="#999"/>
<rect x="449.6" y="878.1" width="0.9" height="45.8" fill="#aaa"/>
<rect x="452.6" y="878.1" width="1.0" height="45.8" fill="#888"/>
<rect x="457.5" y="878.1" width="1.0" height="45.8" fill="#777"/>
<rect x="465.4" y="878.1" width="0.9" height="45.8" fill="#777"/>
<rect x="425" y="927.1" width="43.3" height="3.7" fill="#fff"/>
<rect x="425" y="935.5" width="43.3" height="3.7" fill="#fff"/>
<rect x="425" y="944.0" width="43.3" height="3.7" fill="#fff"/>
<rect x="425" y="952.4" width="43.3" height="3.7" fill="#fff"/>
<rect x="425" y="960.9" width="43.3" height="3.7" fill="#fff"/>
<rect x="425" y="969.3" width="43.3" height="3.7" fill="#fff"/>
<rect x="425.2" y="976.2" width="2.0" height="46.5" fill="#fff"/>
<rect x="431.2" y="976.2" width="4.7" height="46.5" fill="#fff"/>
<rect x="441.1" y="976.2" width="4.5" height="46.5" fill="#fff"/>
<rect x="449.4" y="976.2" width="4.4" height="46.5" fill="#fff"/>
<rect x="457.4" y="976.2" width="4.5" height="46.5" fill="#fff"/>
<rect x="465.3" y="976.2" width="2.8" height="46.5" fill="#fff"/>
<rect x="435.2" y="976.2" width="1.0" height="46.5" fill="#666"/>
<rect x="444.4" y="976.2" width="1.0" height="46.5" fill="#999"/>
<rect x="449.6" y="976.2" width="0.9" height="46.5" fill="#aaa"/>
<rect x="452.6" y="976.2" width="1.0" height="46.5" fill="#888"/>
<rect x="457.5" y="976.2" width="1.0" height="46.5" fill="#777"/>
<rect x="465.4" y="976.2" width="0.9" height="46.5" fill="#777"/>
<line x1="9" y1="135" x2="727" y2="181" stroke="#111" stroke-width="2.3"/>
<line x1="9" y1="226" x2="727" y2="181" stroke="#111" stroke-width="2.3"/>
<line x1="9" y1="305.4" x2="727" y2="416" stroke="#111" stroke-width="2.3"/>
<line x1="9" y1="528" x2="727" y2="416" stroke="#111" stroke-width="2.3"/>
<line x1="9" y1="625" x2="727" y2="802.5" stroke="#111" stroke-width="2.3"/>
<line x1="9" y1="981" x2="727" y2="802.5" stroke="#111" stroke-width="2.3"/>
<line x1="60" y1="90.8" x2="716" y2="90.8" stroke="#222" stroke-width="2.4"/>
<path d="M50,90.8 L68.5,83.2 L67.0,90.8 L68.5,98.39999999999999 Z" fill="#111"/>
<path d="M726.5,90.8 L708.0,83.2 L709.5,90.8 L708.0,98.39999999999999 Z" fill="#111"/>
<line x1="482" y1="73.4" x2="714" y2="73.4" stroke="#222" stroke-width="2.4"/>
<path d="M472.5,73.4 L491.0,65.80000000000001 L489.5,73.4 L491.0,81.0 Z" fill="#111"/>
<path d="M724,73.4 L705.5,65.80000000000001 L707.0,73.4 L705.5,81.0 Z" fill="#111"/>
<text x="72.9" y="68.2" font-size="55.7">Focal length</text>
<text x="493.3" y="46" font-size="55.7">FPA gap</text>
<text x="7.1" y="199.9" font-size="55.7">High f#</text>
<text x="7.1" y="431.8" font-size="55.7">Medium f#</text>
<text x="7.1" y="821.9" font-size="55.7">Low f#</text>
<text x="-0.3" y="1083.2" font-size="55.7">Stop</text>
<text x="399.3" y="1082.7" font-size="55.7">FPA</text>
<text x="634.6" y="1082.7" font-size="55.7">Pixelated</text>
<text x="648.1" y="1130.8" font-size="55.7">detector</text>
<text x="840.3" y="167.7" font-size="55.7">High</text>
<text x="752.0" y="234.7" font-size="55.7">diattenuation</text>
<text x="806.6" y="401" font-size="55.7">Reduced</text>
<text x="758.6" y="467" font-size="55.7">diattenuation</text>
<text x="803.5" y="791.1" font-size="55.7">Inverted</text>
<text x="751.4" y="858.2" font-size="55.7">diattenuation</text>
</svg></body></html>
